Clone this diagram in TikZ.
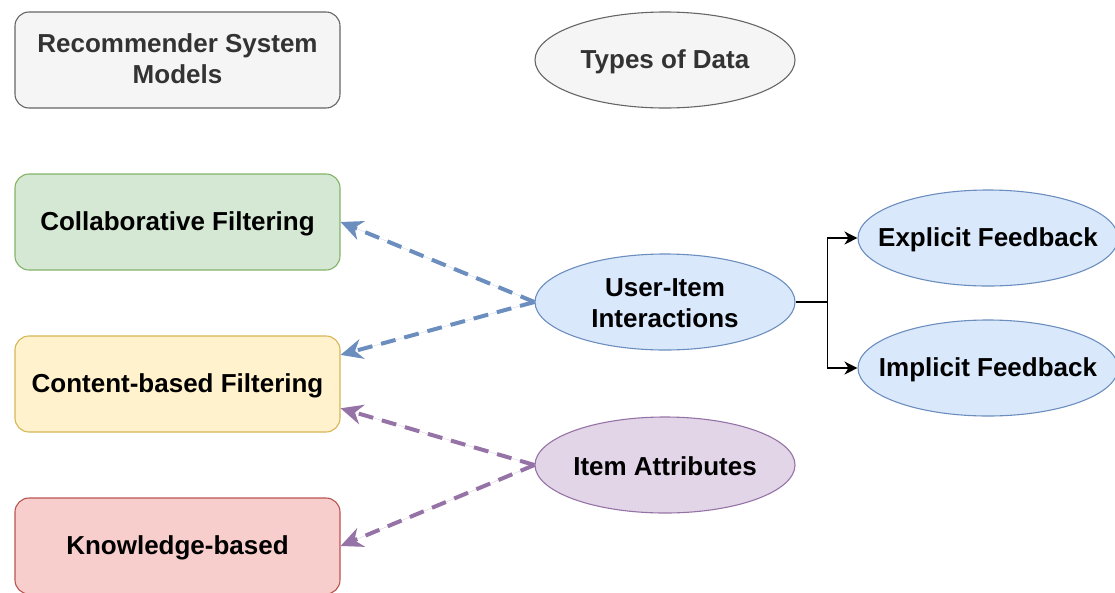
\documentclass[tikz,border=0pt]{standalone}
\usepackage{fontspec}
\setmainfont{Liberation Sans}
\usetikzlibrary{shapes.geometric,arrows.meta,calc}

\definecolor{grayfill}{HTML}{F5F5F5}
\definecolor{graydraw}{HTML}{666666}
\definecolor{graytext}{HTML}{333333}
\definecolor{greenfill}{HTML}{D5E8D4}
\definecolor{greendraw}{HTML}{82B366}
\definecolor{yellowfill}{HTML}{FFF2CC}
\definecolor{yellowdraw}{HTML}{D6B656}
\definecolor{redfill}{HTML}{F8CECC}
\definecolor{reddraw}{HTML}{B85450}
\definecolor{bluefill}{HTML}{DAE8FC}
\definecolor{bluedraw}{HTML}{6C8EBF}
\definecolor{purplefill}{HTML}{E1D5E7}
\definecolor{purpledraw}{HTML}{9673A6}

\tikzset{
  lbl/.style={font=\fontsize{26}{31}\selectfont\bfseries, align=center},
  modelbox/.style={lbl, rectangle, rounded corners=14pt, line width=1.1pt,
    minimum width=325pt, minimum height=96pt, inner sep=0pt, text depth=2pt},
  % the oval keeps a fixed size; its text is set by a separate node on top
  dataoval/.style={ellipse, line width=1.1pt,
    minimum width=260pt, minimum height=96pt, inner sep=0pt},
  ovallabel/.style={lbl, yshift=-1.5pt},
  gray node/.style={fill=grayfill, draw=graydraw},
  feeds/.style={line width=4pt, dash pattern=on 15pt off 9pt,
    -{Stealth[length=22pt,width=20pt,inset=7pt]}},
  branch/.style={line width=1.2pt, -{Stealth[length=13pt,width=13pt,inset=4pt]}}
}

\begin{document}
\begin{tikzpicture}[x=1pt,y=-1pt]
\useasboundingbox (0,0) rectangle (1115,592);

% headers
\node[modelbox, gray node, text=graytext] (rsm) at (177.5,60) {Recommender System\\Models};
\node[dataoval, gray node] (tod) at (665,60) {};
\node[ovallabel, text=graytext] (todtext) at (tod.center) {Types of Data};

% recommender model families
\node[modelbox, fill=greenfill, draw=greendraw] (cf) at (177.5,222) {Collaborative Filtering};
\node[modelbox, fill=yellowfill, draw=yellowdraw] (cb) at (177.5,384) {Content-based Filtering};
\node[modelbox, fill=redfill, draw=reddraw] (kb) at (177.5,546) {Knowledge-based};

% data sources
\node[dataoval, fill=bluefill, draw=bluedraw] (ui) at (665,302) {};
\node[ovallabel] (uitext) at (ui.center) {User-Item\\Interactions};
\node[dataoval, fill=purplefill, draw=purpledraw] (ia) at (665,465) {};
\node[ovallabel] (iatext) at (ia.center) {Item Attributes};
\node[dataoval, fill=bluefill, draw=bluedraw] (ef) at (988,238) {};
\node[ovallabel] (eftext) at (ef.center) {Explicit Feedback};
\node[dataoval, fill=bluefill, draw=bluedraw] (if) at (988,368) {};
\node[ovallabel] (iftext) at (if.center) {Implicit Feedback};

% data -> models
\draw[feeds, draw=bluedraw, fill=bluedraw] (ui.west) -- (cf.east);
\draw[feeds, draw=bluedraw, fill=bluedraw] (ui.west) -- ($(cb.north east)!0.2!(cb.south east)$);
\draw[feeds, draw=purpledraw, fill=purpledraw] (ia.west) -- ($(cb.north east)!0.75!(cb.south east)$);
\draw[feeds, draw=purpledraw, fill=purpledraw] (ia.west) -- (kb.east);

% interaction split
\coordinate (split) at ($(ui.east)+(32,0)$);
\draw[line width=1.2pt] (ui.east) -- (split);
\draw[branch] (split) |- (ef.west);
\draw[branch] (split) |- (if.west);
\end{tikzpicture}
\end{document}
